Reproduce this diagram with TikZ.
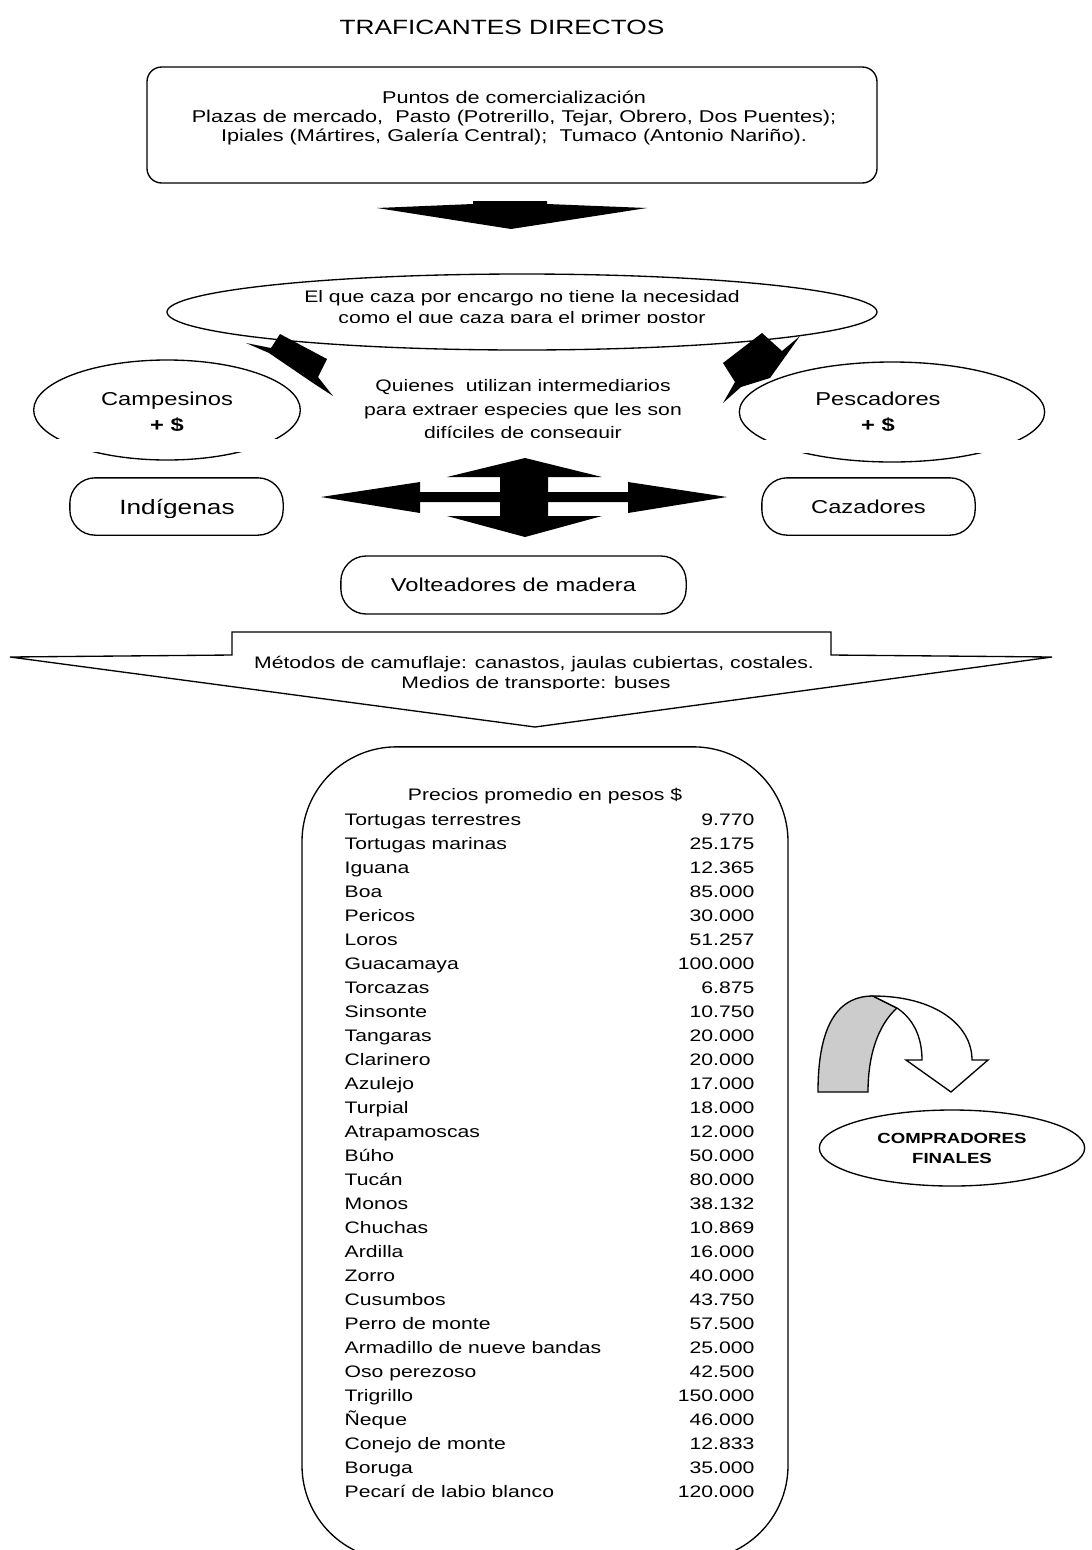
\documentclass[tikz,border=0pt]{standalone}
\usepackage{fontspec}
\setmainfont{Liberation Sans}[FakeStretch=1.27]
\usetikzlibrary{shapes.geometric}
\newcommand{\tam}[2]{\fontsize{#1}{#2}\selectfont}

\begin{document}
\begin{tikzpicture}[x=0.75pt, y=-0.75pt, line width=1pt,
  lbl/.style={inner sep=0pt, align=center},
  marco/.style={draw, line width=1pt, inner sep=0pt},
  ovalo/.style={marco, ellipse},
  caja/.style={marco, rounded corners=19pt, minimum width=160pt, minimum height=43pt},
  bloque/.style={fill=black}]
  \clip (0,0) rectangle (1092,1550);

  % titulo y puntos de comercializacion
  \node[lbl, font=\tam{15.5}{18}] (titulo) at (502,27) {TRAFICANTES DIRECTOS};
  \node[marco, rounded corners=11pt, minimum width=547.5pt, minimum height=87pt] (puntos) at (512,125) {};
  \node[lbl, font=\tam{12.8}{14.25}] (puntostxt) at (514,118) {Puntos de comercialización\\Plazas de mercado,\ \ Pasto (Potrerillo, Tejar, Obrero, Dos Puentes);\\Ipiales (Mártires, Galería Central);\ \ Tumaco (Antonio Nariño).};

  \fill[bloque] (377,208) -- (473,204) -- (473,201) -- (547,201) -- (547,204) -- (647,208) -- (511,229) -- cycle;

  % caza por encargo
  \node[ovalo, minimum width=532.5pt, minimum height=57pt] (encargo) at (522,312) {};
  \begin{scope}
    \clip (160,270) rectangle (890,322);
    \node[lbl, font=\tam{12.5}{15.75}] (encargotxt) at (522,309) {El que caza por encargo no tiene la necesidad\\como el que caza para el primer postor};
  \end{scope}

  \fill[bloque] (246,343) -- (271,348) -- (280,334) -- (327,359) -- (318,377) -- (333,396) -- (313,383) -- (269,353) -- cycle;
  \fill[bloque] (762,333) -- (782,351) -- (800,336) -- (770,378) -- (741,387) -- (723,403) -- (735,382) -- (723,363) -- cycle;

  % campesinos y pescadores
  \node[ovalo, minimum width=200pt, minimum height=75pt] (campesinos) at (167,410) {};
  \node[ovalo, minimum width=229pt, minimum height=75pt] (pescadores) at (892,412) {};
  \begin{scope}
    \clip (20,370) rectangle (1060,430);
    \node[lbl, font=\tam{14}{19.5}] (campesinostxt) at (167,412) {Campesinos\\\textbf{+ \$}};
    \node[lbl, font=\tam{14}{19.5}] (pescadorestxt) at (878,412) {Pescadores\\\textbf{+ \$}};
  \end{scope}
  \fill[white] (20,439) rectangle (315,452);
  \fill[white] (730,440) rectangle (1060,453);

  \begin{scope}
    \clip (330,360) rectangle (720,437);
    \node[lbl, font=\tam{12.5}{17.6}] (quienes) at (523,411) {Quienes\ \ utilizan intermediarios\\para extraer especies que les son\\difíciles de conseguir};
  \end{scope}

  % flecha en cruz
  \fill[bloque] (321,497) -- (420,482) -- (420,492) -- (500,492) -- (500,477) -- (447,477) -- (525,458)
    -- (602,477) -- (548,477) -- (548,492) -- (628,492) -- (628,482) -- (727,497) -- (628,513)
    -- (628,502) -- (548,502) -- (548,516) -- (602,516) -- (525,537) -- (447,516) -- (500,516)
    -- (500,502) -- (420,502) -- (420,513) -- cycle;

  \node[caja] (indigenas) at (176.5,506.5) {};
  \begin{scope}
    \clip (70,470) rectangle (290,517);
    \node[lbl, font=\tam{15.5}{18}] (indigenastxt) at (177,509) {Indígenas};
  \end{scope}
  \node[caja, font=\tam{14}{16}] (cazadores) at (868.5,506.5) {Cazadores};
  \node[caja, minimum width=259pt, minimum height=43.5pt, font=\tam{14}{16}] (volteadores) at (513.5,585) {Volteadores de madera};

  % camuflaje y transporte
  \draw (232,632) -- (831,632) -- (831,655) -- (1052,657) -- (535,727) -- (10,657) -- (232,655) -- cycle;
  \node[lbl, font=\tam{12.5}{14.25}] (camuflaje) at (534,664) {Métodos de camuflaje: canastos, jaulas cubiertas, costales.};
  \begin{scope}
    \clip (300,670) rectangle (760,688);
    \node[lbl, font=\tam{12.5}{14.25}] (transporte) at (536,684) {Medios de transporte: buses};
  \end{scope}

  % precios
  \node[marco, rounded corners=71pt, minimum width=364.5pt, minimum height=610pt] (precios) at (545,1153.5) {};
  \node[lbl, font=\tam{12.5}{14}] (preciostit) at (545,796) {Precios promedio en pesos \$};
  \foreach \esp/\val [count=\i from 0] in {Tortugas terrestres/9.770, Tortugas marinas/25.175,
      Iguana/12.365, Boa/85.000, Pericos/30.000, Loros/51.257, Guacamaya/100.000, Torcazas/6.875,
      Sinsonte/10.750, Tangaras/20.000, Clarinero/20.000, Azulejo/17.000, Turpial/18.000,
      Atrapamoscas/12.000, Búho/50.000, Tucán/80.000, Monos/38.132, Chuchas/10.869, Ardilla/16.000,
      Zorro/40.000, Cusumbos/43.750, Perro de monte/57.500, Armadillo de nueve bandas/25.000,
      Oso perezoso/42.500, Trigrillo/150.000, Ñeque/46.000, Conejo de monte/12.833,
      Boruga/35.000, Pecarí de labio blanco/120.000}
  {
    \node[lbl, anchor=base west, font=\tam{12.5}{14}] (esp\i) at (344,{825+24*\i}) {\esp};
    \node[lbl, anchor=base east, font=\tam{12.5}{14}] (val\i) at (755,{825+24*\i}) {\val};
  }

  % flecha curva y compradores
  \filldraw[fill=gray!40] (818,1092) .. controls (818,1030) and (835,996) .. (873,996) -- (897,1008)
    .. controls (878,1025) and (868,1055) .. (868,1092) -- cycle;
  \filldraw[fill=white] (873,996) .. controls (935,996) and (972,1025) .. (972,1060) -- (988,1060)
    -- (951,1092) -- (906,1060) -- (922,1060) .. controls (922,1035) and (912,1018) .. (897,1008) -- cycle;
  \node[ovalo, minimum width=199pt, minimum height=57pt, align=center, font=\bfseries\tam{11}{15}] (compradores) at (952,1148) {COMPRADORES\\FINALES};
\end{tikzpicture}
\end{document}
